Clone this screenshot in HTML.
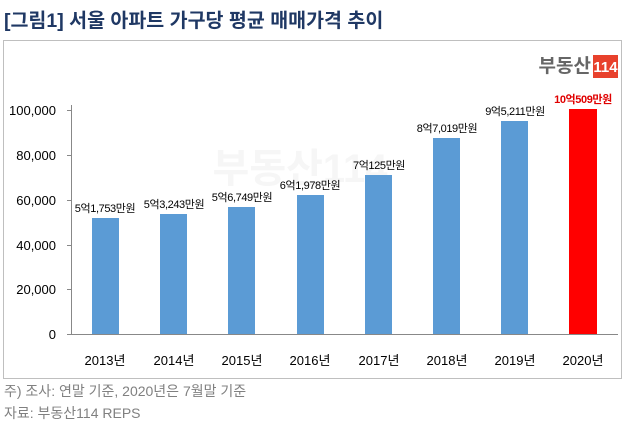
<!DOCTYPE html>
<html><head><meta charset="utf-8"><style>
body{margin:0;width:623px;height:424px;background:#fff;overflow:hidden;font-family:"Liberation Sans","Noto Sans CJK KR",sans-serif;}
</style></head><body>
<svg width="623" height="424" xmlns="http://www.w3.org/2000/svg" font-family="Liberation Sans, Noto Sans CJK KR, sans-serif">
<text x="4" y="27" font-size="19.5" font-weight="bold" fill="#1f3864">[그림1] 서울 아파트 가구당 평균 매매가격 추이</text>
<rect x="3.5" y="40.5" width="618" height="338" fill="none" stroke="#bfbfbf"/>
<text x="591" y="72" font-size="19" font-weight="bold" fill="#666" text-anchor="end">부동산</text>
<rect x="593" y="55" width="25" height="23" fill="#e8412c"/>
<text x="605.5" y="72" font-size="15" font-weight="bold" fill="#fff" text-anchor="middle">114</text>
<text x="300" y="182" font-size="40" font-weight="bold" fill="#f6f6f6" text-anchor="middle">부동산114</text>
<g font-size="13" fill="#000" text-anchor="end">
<text x="56" y="115">100,000</text><text x="56" y="160">80,000</text><text x="56" y="205">60,000</text><text x="56" y="250">40,000</text><text x="56" y="294">20,000</text><text x="56" y="339">0</text>
</g>
<g stroke="#888" stroke-width="1">
<line x1="71.5" y1="105" x2="71.5" y2="334"/>
<line x1="71.5" y1="334.5" x2="618" y2="334.5"/>
<line x1="67" y1="110.5" x2="72" y2="110.5"/><line x1="67" y1="155.5" x2="72" y2="155.5"/><line x1="67" y1="200.5" x2="72" y2="200.5"/><line x1="67" y1="245.5" x2="72" y2="245.5"/><line x1="67" y1="289.5" x2="72" y2="289.5"/><line x1="67" y1="334.5" x2="72" y2="334.5"/>
</g>
<g fill="#5b9bd5">
<rect x="92" y="218" width="27" height="116"/>
<rect x="160" y="214" width="27" height="120"/>
<rect x="228" y="207" width="27" height="127"/>
<rect x="297" y="195" width="27" height="139"/>
<rect x="365" y="175" width="27" height="159"/>
<rect x="433" y="138" width="27" height="196"/>
<rect x="501" y="121" width="27" height="213"/>
</g>
<rect x="569" y="109" width="28" height="225" fill="#ff0000"/>
<g font-size="11" fill="#000" text-anchor="middle" letter-spacing="-0.4">
<text x="105" y="212">5억1,753만원</text>
<text x="174" y="208">5억3,243만원</text>
<text x="242" y="201">5억6,749만원</text>
<text x="310" y="189">6억1,978만원</text>
<text x="379" y="169">7억125만원</text>
<text x="447" y="132">8억7,019만원</text>
<text x="515" y="115">9억5,211만원</text>
<text x="583" y="103" fill="#e00000" font-weight="bold">10억509만원</text>
</g>
<g font-size="13" fill="#000" text-anchor="middle">
<text x="105" y="365">2013년</text><text x="174" y="365">2014년</text><text x="242" y="365">2015년</text><text x="310" y="365">2016년</text><text x="379" y="365">2017년</text><text x="447" y="365">2018년</text><text x="515" y="365">2019년</text><text x="583" y="365">2020년</text>
</g>
<text x="4" y="396" font-size="14" fill="#808080">주) 조사: 연말 기준, 2020년은 7월말 기준</text>
<text x="4" y="418" font-size="14" fill="#808080">자료: 부동산114 REPS</text>
</svg>
</body></html>
